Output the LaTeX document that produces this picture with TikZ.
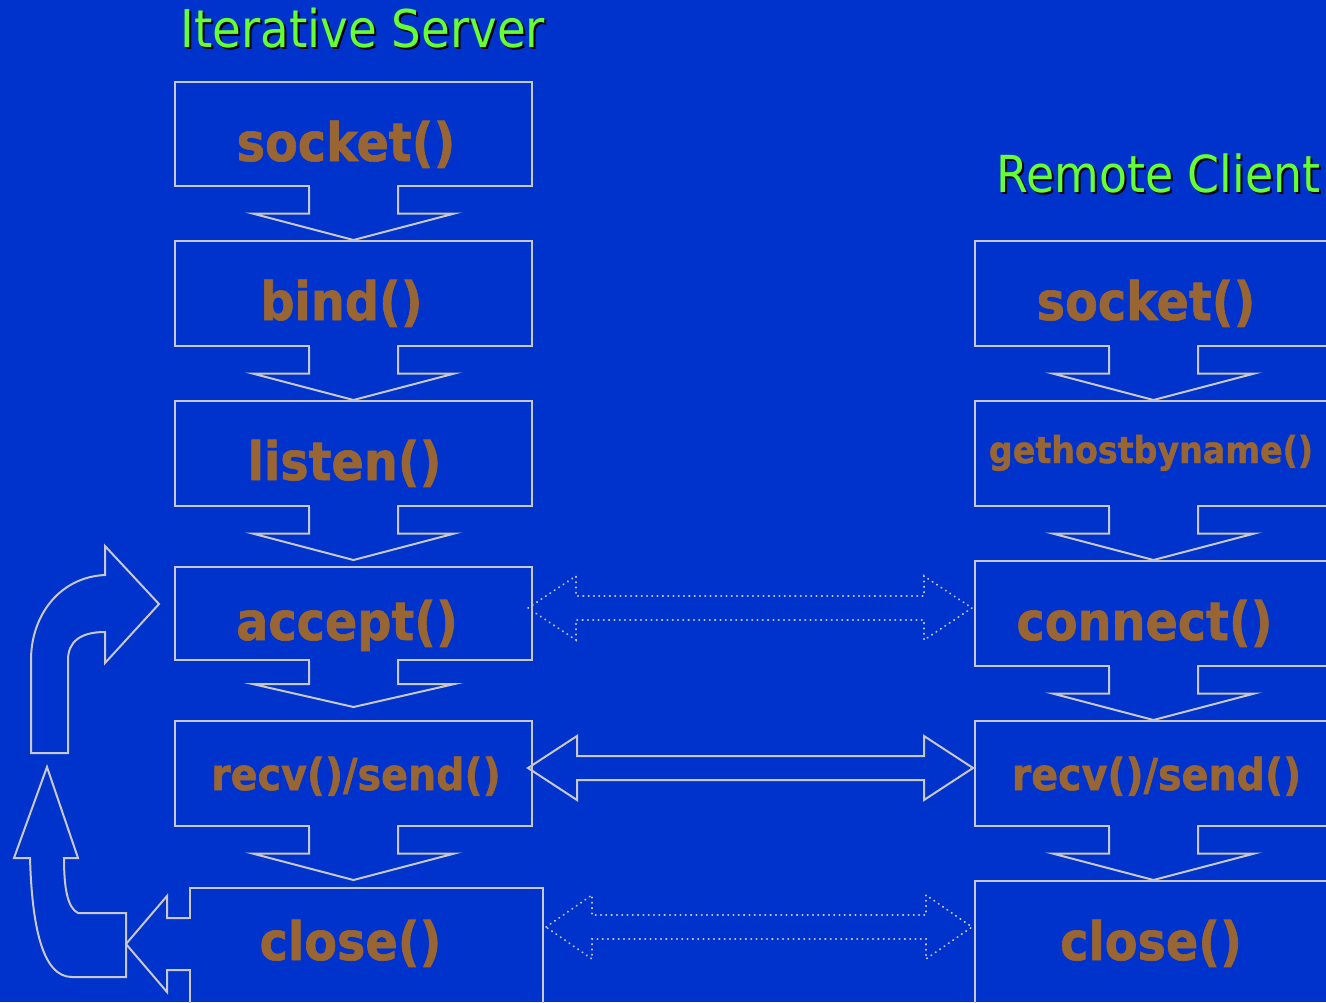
\documentclass[tikz,border=0pt]{standalone}
\usepackage{fontspec}
\setmainfont{DejaVu Sans}
\newfontfamily\lblfont[FakeStretch=0.9]{DejaVu Sans}
\newfontfamily\callfont[FakeStretch=0.9,FakeBold=1.2]{DejaVu Sans Bold}
\usetikzlibrary{calc}

\definecolor{bgblue}{HTML}{0033CC}
\definecolor{titlegreen}{HTML}{66FF33}
\definecolor{callbrown}{HTML}{996633}
\definecolor{linegray}{HTML}{C8C8C8}

\tikzset{
  stepbox/.style={draw=linegray, line width=2pt, inner sep=0pt},
  outline/.style={draw=linegray, line width=2pt, line join=miter},
  dotline/.style={draw=linegray, line width=1.8pt, line cap=round,
                  dash pattern=on 0.5pt off 4.8pt},
  bigcall/.style={text=callbrown, anchor=base, inner sep=0pt,
                  font=\callfont\fontsize{53}{60}\selectfont},
  midcall/.style={bigcall, font=\callfont\fontsize{44}{50}\selectfont},
  smallcall/.style={bigcall, font=\callfont\fontsize{37}{42}\selectfont},
  titletext/.style={anchor=base west, inner sep=0pt,
                  font=\lblfont\fontsize{52}{58}\selectfont},
}

% block arrow pointing down from box #1 into box #2, centred on column #3,
% tip lifted #4 above the top of box #2
\newcommand\blockdown[4]{%
  \coordinate (#1-t) at (#3 |- #1.south);
  \coordinate (#1-p) at ($(#3 |- #2.north)+(0,-#4)$);
  \coordinate (#1-h) at ($(#1-t)!0.5!(#1-p)$);
  \fill[bgblue] ($(#1-t)+(-43.4,-1.8)$) rectangle ($(#1-t)+(43.4,1.8)$);
  \draw[outline] ($(#1-t)+(-44.5,0)$) -- ($(#1-h)+(-44.5,0)$)
     -- ($(#1-h)+(-101,0)$) -- (#1-p) -- ($(#1-h)+(101,0)$)
     -- ($(#1-h)+(44.5,0)$) -- ($(#1-t)+(44.5,0)$);
}

% two-headed block arrow between tips #2 and #3, head length #4
\newcommand\blockboth[4]{%
  \draw[#1] (#2) -- ($(#2)+(#4,-32)$) -- ($(#2)+(#4,-12)$)
     -- ($(#3)+(-#4,-12)$) -- ($(#3)+(-#4,-32)$) -- (#3)
     -- ($(#3)+(-#4,32)$) -- ($(#3)+(-#4,12)$)
     -- ($(#2)+(#4,12)$) -- ($(#2)+(#4,32)$) -- cycle;
}

\begin{document}
\begin{tikzpicture}[x=1pt, y=-1pt]
\useasboundingbox (0,0) rectangle (1326,1002);
\clip (0,0) rectangle (1326,1002);
\fill[bgblue] (0,0) rectangle (1326,1002);

% titles with drop shadow
\node[titletext, text=black] at (182,49) {Iterative Server};
\node[titletext, text=titlegreen] (tserver) at (180,47) {Iterative Server};
\node[titletext, text=black, font=\lblfont\fontsize{51}{58}\selectfont] at (998,194) {Remote Client};
\node[titletext, text=titlegreen, font=\lblfont\fontsize{51}{58}\selectfont] (tclient) at (996,192) {Remote Client};

% column axes
\coordinate (scol) at (353.5,0);
\coordinate (ccol) at (1153.5,0);

% server boxes
\node[stepbox, minimum width=357pt, minimum height=104pt] (s1) at (353.5,134) {};
\node[stepbox, minimum width=357pt, minimum height=105pt] (s2) at (353.5,293.5) {};
\node[stepbox, minimum width=357pt, minimum height=105pt] (s3) at (353.5,453.5) {};
\node[stepbox, minimum width=357pt, minimum height=93pt]  (s4) at (353.5,613.5) {};
\node[stepbox, minimum width=357pt, minimum height=105pt] (s5) at (353.5,773.5) {};
\node[stepbox, minimum width=353pt, minimum height=132pt] (s6) at (366.5,954) {};

% client boxes
\node[stepbox, minimum width=370pt, minimum height=105pt] (c1) at (1160,293.5) {};
\node[stepbox, minimum width=370pt, minimum height=105pt] (c2) at (1160,453.5) {};
\node[stepbox, minimum width=370pt, minimum height=105pt] (c3) at (1160,613.5) {};
\node[stepbox, minimum width=370pt, minimum height=105pt] (c4) at (1160,773.5) {};
\node[stepbox, minimum width=370pt, minimum height=139pt] (c5) at (1160,950.5) {};

% call labels
\node[bigcall] (ls1) at (346,161) {socket()};
\node[bigcall] (ls2) at (341.5,320) {bind()};
\node[bigcall] (ls3) at (344.5,480) {listen()};
\node[bigcall] (ls4) at (347,640) {accept()};
\node[midcall] (ls5) at (356,790) {recv()/send()};
\node[bigcall] (ls6) at (350.5,960) {close()};
\node[bigcall] (lc1) at (1146,320) {socket()};
\node[smallcall] (lc2) at (1151,463) {gethostbyname()};
\node[bigcall] (lc3) at (1144.5,640) {connect()};
\node[midcall] (lc4) at (1156.5,790) {recv()/send()};
\node[bigcall] (lc5) at (1151,960) {close()};

% down arrows, server side
\blockdown{s1}{s2}{scol}{0}
\blockdown{s2}{s3}{scol}{0}
\blockdown{s3}{s4}{scol}{6}
\blockdown{s4}{s5}{scol}{13}
\blockdown{s5}{s6}{scol}{7}

% down arrows, client side
\blockdown{c1}{c2}{ccol}{0}
\blockdown{c2}{c3}{ccol}{0}
\blockdown{c3}{c4}{ccol}{0}
\blockdown{c4}{c5}{ccol}{0}

% exchanges between server and client
\coordinate (a1l) at ($(s4.north east)+(-5,42)$);
\coordinate (a1r) at ($(c3.west |- a1l)+(-2,0)$);
\blockboth{dotline}{a1l}{a1r}{48}
\coordinate (a2l) at ($(s5.north east)+(-5,48)$);
\coordinate (a2r) at ($(c4.west |- a2l)+(-1,0)$);
\blockboth{outline}{a2l}{a2r}{49}
\coordinate (a3l) at ($(s6.north east)+(2,40)$);
\coordinate (a3r) at ($(c5.west |- a3l)+(-2,0)$);
\blockboth{dotline}{a3l}{a3r}{46}

% arrow leaving close() to the left
\fill[bgblue] ($(s6.north west)+(-1.8,32)$) rectangle ($(s6.north west)+(1.8,82)$);
\draw[outline] ($(s6.north west)+(0,31)$) -- ($(s6.north west)+(-22,31)$)
   -- ($(s6.north west)+(-22,9)$) -- ($(s6.north west)+(-63,57)$) coordinate (ret)
   -- ($(s6.north west)+(-22,105)$) -- ($(s6.north west)+(-22,83)$)
   -- ($(s6.north west)+(0,83)$);

% return loop: up from close() ...
\draw[outline] (ret |- 0,913) -- (78,913) .. controls (68,908) and (64,890) .. (64,858)
   -- (78,858) -- (47,767) -- (14,858) -- (30,858)
   .. controls (32,925) and (42,977) .. (72,977) -- (ret |- 0,977) -- cycle;

% ... and back into accept()
\coordinate (intoaccept) at ($(s4.west |- 0,604)+(-15,0)$);
\draw[outline] (31,753) -- (68,753) -- (68,660)
   .. controls (68,642) and (80,632) .. (105,632) -- (105,663)
   -- (intoaccept) -- (105,546) -- (105,575)
   .. controls (60,577) and (31,615) .. (31,660) -- cycle;
\end{tikzpicture}
\end{document}
